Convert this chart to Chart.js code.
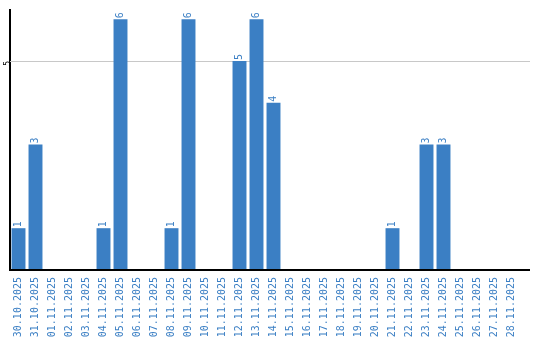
<!DOCTYPE html>
<html>
<head>
<meta charset="utf-8">
<script src="https://cdn.jsdelivr.net/npm/chart.js@4/dist/chart.umd.min.js"></script>
<style>
html,body{margin:0;padding:0;background:#fff;}
#wrap{width:540px;height:340px;}
</style>
</head>
<body>
<div id="wrap"><canvas id="c" width="540" height="340"></canvas></div>
<script>
const categories = ["30.10.2025","31.10.2025","01.11.2025","02.11.2025","03.11.2025","04.11.2025","05.11.2025","06.11.2025","07.11.2025","08.11.2025","09.11.2025","10.11.2025","11.11.2025","12.11.2025","13.11.2025","14.11.2025","15.11.2025","16.11.2025","17.11.2025","18.11.2025","19.11.2025","20.11.2025","21.11.2025","22.11.2025","23.11.2025","24.11.2025","25.11.2025","26.11.2025","27.11.2025","28.11.2025"];
const counts = [1,3,0,0,0,1,6,0,0,1,6,0,0,5,6,4,0,0,0,0,0,0,1,0,3,3,0,0,0,0];
const yTicks = [5];

const BLUE = "rgb(59,127,196)";
const FONT = "DejaVu Sans Mono";

const valueLabels = {
  id: "valueLabels",
  afterDatasetsDraw(chart) {
    const ctx = chart.ctx;
    const meta = chart.getDatasetMeta(0);
    ctx.save();
    ctx.fillStyle = BLUE;
    ctx.font = "10px '" + FONT + "'";
    ctx.textAlign = "left";
    ctx.textBaseline = "middle";
    meta.data.forEach((bar, i) => {
      const v = counts[i];
      if (!v) return;
      ctx.save();
      ctx.translate(bar.x, bar.y - 1);
      ctx.rotate(-Math.PI / 2);
      ctx.fillText(String(v), 0, 0);
      ctx.restore();
    });
    ctx.restore();
  }
};

const axisExtend = {
  id: "axisExtend",
  beforeDatasetsDraw(chart) {
    const ctx = chart.ctx;
    const a = chart.chartArea;
    const y = chart.scales.y;
    ctx.save();
    ctx.strokeStyle = "#c8c8c8";
    ctx.lineWidth = 1;
    yTicks.forEach(t => {
      const py = Math.round(y.getPixelForValue(t)) + 0.5;
      ctx.beginPath();
      ctx.moveTo(a.left, py);
      ctx.lineTo(530, py);
      ctx.stroke();
    });
    ctx.restore();
  },
  afterDraw(chart) {
    const ctx = chart.ctx;
    const a = chart.chartArea;
    ctx.save();
    ctx.strokeStyle = "#000";
    ctx.lineWidth = 2;
    ctx.beginPath();
    ctx.moveTo(a.left - 1, Math.round(a.bottom));
    ctx.lineTo(530, Math.round(a.bottom));
    ctx.stroke();
    ctx.restore();
  }
};

new Chart(document.getElementById("c"), {
  type: "bar",
  data: {
    labels: categories,
    datasets: [{
      data: counts,
      backgroundColor: BLUE,
      borderWidth: 0,
      barPercentage: 0.82,
      categoryPercentage: 1.0
    }]
  },
  options: {
    responsive: false,
    animation: false,
    devicePixelRatio: 1,
    layout: { padding: { top: 10, right: 20, bottom: 0, left: 0 } },
    plugins: { legend: { display: false }, tooltip: { enabled: false } },
    scales: {
      x: {
        grid: { display: false, drawTicks: false },
        border: { display: false },
        ticks: {
          autoSkip: false,
          minRotation: 90,
          maxRotation: 90,
          color: BLUE,
          padding: 7,
          font: { family: FONT, size: 10 }
        },
        afterFit(scale) { scale.height = 70; }
      },
      y: {
        min: 0,
        max: 6.22,
        grid: { display: false, drawTicks: false },
        border: { display: true, color: "#000", width: 2 },
        afterBuildTicks(scale) { scale.ticks = yTicks.map(v => ({ value: v })); },
        ticks: {
          minRotation: 90,
          maxRotation: 90,
          color: "#000",
          padding: 2,
          font: { family: FONT, size: 8 }
        },
        afterFit(scale) { scale.width = 10; }
      }
    }
  },
  plugins: [valueLabels, axisExtend]
});
</script>
</body>
</html>
